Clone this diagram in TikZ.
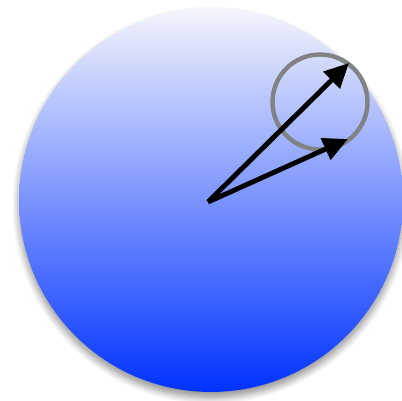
\documentclass[tikz,border=0pt]{standalone}
\usepackage{tikz}
\usetikzlibrary{arrows.meta,calc,positioning,shadows.blur}

\definecolor{disctop}{RGB}{244,245,252}
\definecolor{discbot}{RGB}{0,50,255}
\definecolor{ringgray}{RGB}{128,130,132}

\begin{document}
\begin{tikzpicture}[x=0.02cm,y=-0.02cm,>={Triangle[length=14pt,width=13pt]}]
  \tikzset{disc/.style={circle,inner sep=0pt,minimum size=7.68cm,top color=disctop,bottom color=discbot,
      blur shadow={shadow xshift=0pt,shadow yshift=-3pt,shadow blur radius=4pt,shadow blur steps=10,shadow opacity=45}},
    ring/.style={circle,draw=ringgray,line width=2.5pt,inner sep=0pt,minimum size=1.9cm},
    vec/.style={->,black,line width=2.8pt}}
  \useasboundingbox (0,0) rectangle (402,401);

  \node[disc] (disc) at (211,200) {};
  \node[ring] (ring) at (320,102) {};

  \coordinate (orig) at (208,202);
  \coordinate (tipa) at (349,63);
  \coordinate (tipb) at (348,139);

  \draw[vec] (orig) -- (tipa);
  \draw[vec] (orig) -- (tipb);
\end{tikzpicture}
\end{document}
